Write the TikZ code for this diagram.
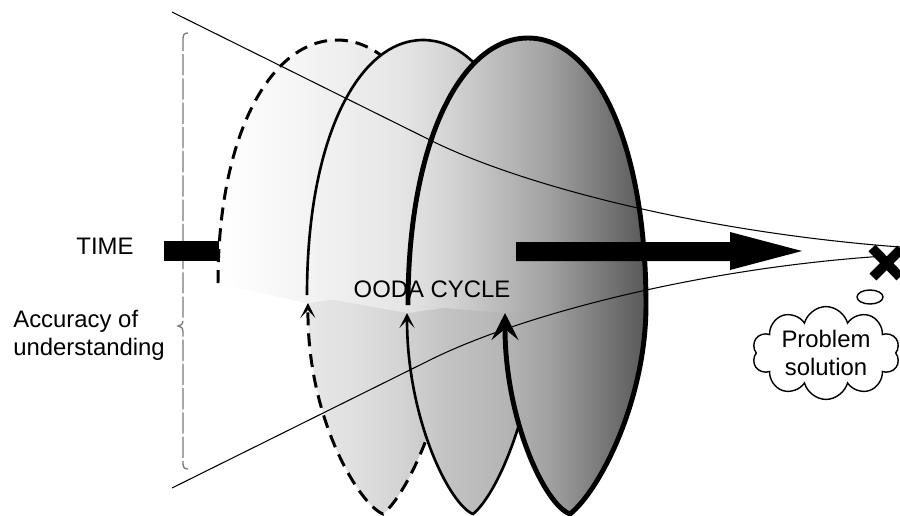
\documentclass[tikz,border=0pt]{standalone}
\usepackage{fontspec}
\setmainfont{Liberation Sans}
\usetikzlibrary{arrows.meta,shapes.geometric,shapes.symbols}
\definecolor{bracegray}{HTML}{7A7A7A}
\pgfdeclarehorizontalshading{backshade}{100bp}{color(0bp)=(white); color(25bp)=(white); color(34.4bp)=(black!4); color(40.2bp)=(black!7); color(46bp)=(black!10); color(51.7bp)=(black!17); color(58.1bp)=(black!28); color(63.2bp)=(black!37); color(69bp)=(black!52); color(75bp)=(black!67); color(100bp)=(black!67)}
\pgfdeclarehorizontalshading{frontshade}{100bp}{color(0bp)=(black!3); color(25bp)=(black!3); color(34.4bp)=(black!9); color(40.2bp)=(black!12); color(46bp)=(black!17); color(51.7bp)=(black!24); color(58.1bp)=(black!29); color(63.2bp)=(black!37); color(69bp)=(black!52); color(75bp)=(black!67); color(100bp)=(black!67)}
\tikzset{
txt/.style={font=\fontsize{13.6}{15.8}\selectfont,inner sep=0pt},
bracket/.style={draw=bracegray,line width=.75pt,dash pattern=on 12pt off 1.8pt},
funnel/.style={line width=.6pt},
dashloop/.style={line width=1.7pt,dash pattern=on 7.4pt off 4.5pt,-{Stealth[length=3mm,width=3mm,inset=1.6mm]}},
thinloop/.style={line width=1.5pt,-{Stealth[length=3mm,width=3mm,inset=1.6mm]}},
thickloop/.style={line width=2.8pt,-{Stealth[length=5.4mm,width=5.4mm,inset=2.2mm]}},
xmark/.style={line width=5.5pt},
puff/.style={draw,line width=.8pt}}

\begin{document}
\begin{tikzpicture}[x=0.02cm,y=-0.02cm]
\useasboundingbox (0,0) rectangle (900,515);
% turn points: start, top, right, bottom, arrow tip
\coordinate (s1) at (218,283); \coordinate (t1) at (337,40); \coordinate (r1) at (456,283); \coordinate (b1) at (383,514); \coordinate (a1) at (308,303);
\coordinate (s2) at (307,295); \coordinate (t2) at (423,40); \coordinate (r2) at (539,295); \coordinate (b2) at (473,514); \coordinate (a2) at (407,313);
\coordinate (s3) at (408,305); \coordinate (t3) at (528,38); \coordinate (r3) at (646,305); \coordinate (b3) at (570,514); \coordinate (a3) at (505,313);
% accuracy bracket
\draw[bracket] (188,33) .. controls (184,33) and (183,35) .. (183,39) -- (183,320) .. controls (183,324) and (181,326) .. (178,326) .. controls (181,326) and (183,328) .. (183,332) -- (183,463) .. controls (183,467) and (184,469) .. (188,469);
% first turn
\begin{scope}
\clip (s1) .. controls (218,132) and (272,40) .. (t1) .. controls (402,40) and (456,132) .. (r1) .. controls (456,390) and (410,492) .. (b1) .. controls (360,505) and (307,420) .. (a1) -- cycle;
\shade[shading=frontshade] (218,0) rectangle (652,515);
\end{scope}
\begin{scope}
\clip (s1) .. controls (218,132) and (272,40) .. (t1) .. controls (402,40) and (456,132) .. (r1) -- (a1) -- cycle;
\shade[shading=backshade] (218,0) rectangle (652,515);
\end{scope}
\draw[dashloop] (s1) .. controls (218,132) and (272,40) .. (t1) .. controls (402,40) and (456,132) .. (r1) .. controls (456,390) and (410,492) .. (b1) .. controls (360,505) and (307,420) .. (a1);
% second turn
\begin{scope}
\clip (s2) .. controls (307,137) and (359,40) .. (t2) .. controls (487,40) and (539,137) .. (r2) .. controls (539,395) and (500,492) .. (b2) .. controls (450,505) and (407,420) .. (a2) -- cycle;
\shade[shading=frontshade] (218,0) rectangle (652,515);
\end{scope}
\begin{scope}
\clip (s2) .. controls (307,137) and (359,40) .. (t2) .. controls (487,40) and (539,137) .. (r2) -- (a2) -- cycle;
\shade[shading=backshade] (218,0) rectangle (652,515);
\end{scope}
\draw[thinloop] (s2) .. controls (307,137) and (359,40) .. (t2) .. controls (487,40) and (539,137) .. (r2) .. controls (539,395) and (500,492) .. (b2) .. controls (450,505) and (407,420) .. (a2);
% third turn
\begin{scope}
\clip (s3) .. controls (408,140) and (462,38) .. (t3) .. controls (594,38) and (646,140) .. (r3) .. controls (646,400) and (600,490) .. (b3) .. controls (545,505) and (505,420) .. (a3) -- cycle;
\shade[shading=frontshade] (218,0) rectangle (652,515);
\end{scope}
\begin{scope}
\clip (s3) .. controls (408,140) and (462,38) .. (t3) .. controls (594,38) and (646,140) .. (r3) -- (a3) -- cycle;
\shade[shading=backshade] (218,0) rectangle (652,515);
\end{scope}
\node[txt] (ooda) at (432,289) {OODA CYCLE};
\draw[thickloop] (s3) .. controls (408,140) and (462,38) .. (t3) .. controls (594,38) and (646,140) .. (r3) .. controls (646,400) and (600,490) .. (b3) .. controls (545,505) and (505,420) .. (a3);
% time axis
\fill (164,241) rectangle (219,261);
\fill (516,242) -- (730,242) -- (730,232) -- (802,251) -- (730,270) -- (730,261) -- (516,261) -- cycle;
% funnel
\draw[funnel] (172,12) -- (430,140) .. controls (520,185) and (700,232) .. (900,247);
\draw[funnel] (172,488) -- (430,360) .. controls (520,315) and (700,268) .. (885,256);
\draw[xmark] (872,248) -- (900,277) (873,277) -- (901,249);
\node[puff,ellipse,minimum width=5.2mm,minimum height=2.8mm,inner sep=0pt] (bubble) at (870,297) {};
\node[txt,puff,cloud,cloud puffs=10,aspect=1.9,minimum width=29.5mm,minimum height=16.5mm,align=center] (solution) at (826,353) {Problem\\solution};
\node[txt] (time) at (105,246) {TIME};
\node[txt,anchor=west,align=left] (accuracy) at (13,335) {Accuracy of\\understanding};
\end{tikzpicture}
\end{document}
